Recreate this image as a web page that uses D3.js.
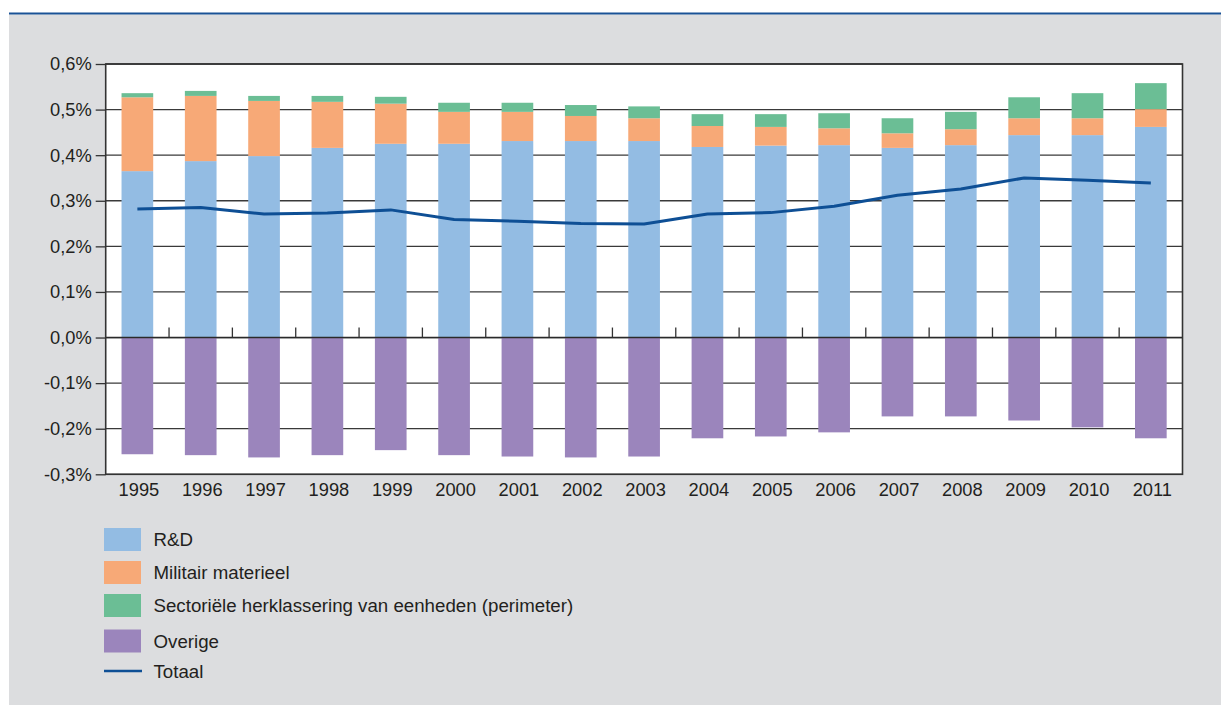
<!DOCTYPE html>
<html>
<head>
<meta charset="utf-8">
<script src="https://cdn.jsdelivr.net/npm/d3@7"></script>
<style>
  html, body { margin: 0; padding: 0; background: #ffffff; }
  svg { display: block; font-family: "Liberation Sans", Arial, Helvetica, sans-serif; }
</style>
</head>
<body>
<svg id="chart" width="1221" height="705"></svg>
<script>
// Years on the horizontal axis
const years = ["1995","1996","1997","1998","1999","2000","2001","2002","2003","2004","2005","2006","2007","2008","2009","2010","2011"];

// Contributions in % of GDP
const rnd = [0.365,0.387,0.398,0.416,0.425,0.425,0.431,0.431,0.431,0.418,0.421,0.422,0.416,0.422,0.444,0.444,0.462];
const militair = [0.162,0.143,0.121,0.101,0.088,0.070,0.064,0.055,0.050,0.046,0.041,0.037,0.032,0.035,0.037,0.037,0.039];
const sectorieel = [0.009,0.011,0.011,0.013,0.015,0.020,0.020,0.024,0.026,0.026,0.028,0.033,0.033,0.038,0.046,0.055,0.057];
const overige = [-0.256,-0.258,-0.263,-0.258,-0.247,-0.258,-0.261,-0.263,-0.261,-0.221,-0.217,-0.208,-0.173,-0.173,-0.182,-0.197,-0.221];
const totaal = [0.282,0.285,0.271,0.273,0.280,0.259,0.255,0.250,0.249,0.271,0.274,0.288,0.312,0.326,0.350,0.345,0.339];

// Value-axis ticks
const yTicks = [-0.3,-0.2,-0.1,0.0,0.1,0.2,0.3,0.4,0.5,0.6];

const seriesNames = ["R&D","Militair materieel","Sectoriële herklassering van eenheden (perimeter)","Overige","Totaal"];
const colors = {
  rnd: "#93bce3",
  militair: "#f7a977",
  sectorieel: "#6bbe95",
  overige: "#9b85bc",
  totaal: "#0e4f95"
};

const FONT = 18.3;
const LEGEND_FONT = 18.7;
const svg = d3.select("#chart");
const W = 1221, H = 705;

// Page background: white strip, blue rule, grey panel
svg.append("rect").attr("x", 0).attr("y", 0).attr("width", W).attr("height", H).attr("fill", "#ffffff");
svg.append("rect").attr("x", 9).attr("y", 14.5).attr("width", W - 9).attr("height", H - 14.5).attr("fill", "#dcdddf");
svg.append("line").attr("x1", 9).attr("x2", W).attr("y1", 13.5).attr("y2", 13.5)
  .attr("stroke", "#1a5296").attr("stroke-width", 2);

const plot = { left: 105.7, right: 1182.5, top: 64, bottom: 474.3 };

const x = d3.scaleBand().domain(years).range([plot.left, plot.right]).paddingInner(0.5).paddingOuter(0.25);
const y = d3.scaleLinear().domain([-0.3, 0.6]).range([plot.bottom, plot.top]);

// White plotting area
svg.append("rect")
  .attr("x", plot.left).attr("y", plot.top)
  .attr("width", plot.right - plot.left).attr("height", plot.bottom - plot.top)
  .attr("fill", "#ffffff");

// Horizontal grid lines
svg.append("g").selectAll("line").data(yTicks).join("line")
  .attr("x1", plot.left).attr("x2", plot.right)
  .attr("y1", d => y(d)).attr("y2", d => y(d))
  .attr("stroke", "#3a3a3a").attr("stroke-width", 1.3);

// Stacked bars
const table = years.map((yr, i) => ({ year: yr, rnd: rnd[i], militair: militair[i], sectorieel: sectorieel[i], overige: overige[i] }));
const stack = d3.stack().keys(["rnd", "militair", "sectorieel", "overige"]).offset(d3.stackOffsetDiverging);
const layers = stack(table);

svg.append("g").selectAll("g").data(layers).join("g")
  .attr("fill", d => colors[d.key])
  .selectAll("rect").data(d => d).join("rect")
  .attr("x", d => x(d.data.year))
  .attr("width", x.bandwidth())
  .attr("y", d => y(Math.max(d[0], d[1])))
  .attr("height", d => Math.abs(y(d[0]) - y(d[1])));

// Zero line
svg.append("line").attr("x1", plot.left).attr("x2", plot.right)
  .attr("y1", y(0)).attr("y2", y(0)).attr("stroke", "#2a2a2a").attr("stroke-width", 1.6);

// Category separators on the zero line
const step = x.step();
svg.append("g").selectAll("line").data(years.slice(1)).join("line")
  .attr("x1", d => x(d) - step * x.paddingInner() / 2)
  .attr("x2", d => x(d) - step * x.paddingInner() / 2)
  .attr("y1", y(0)).attr("y2", y(0) - 10)
  .attr("stroke", "#333").attr("stroke-width", 1.3);

// Total line
const line = d3.line()
  .x((d, i) => x(years[i]) + x.bandwidth() / 2)
  .y(d => y(d));
svg.append("path").datum(totaal)
  .attr("d", line)
  .attr("fill", "none")
  .attr("stroke", colors.totaal)
  .attr("stroke-width", 3)
  .attr("stroke-linejoin", "round");

// Frame around the plotting area
svg.append("rect")
  .attr("x", plot.left).attr("y", plot.top)
  .attr("width", plot.right - plot.left).attr("height", plot.bottom - plot.top)
  .attr("fill", "none").attr("stroke", "#333").attr("stroke-width", 1.6);

// Value axis
const nl = d3.formatLocale({ decimal: ",", thousands: ".", grouping: [3], currency: ["€", ""], minus: "-" });
const fmt = nl.format(".1f");
const yAxis = d3.axisLeft(y).tickValues(yTicks).tickSize(10).tickSizeOuter(0).tickPadding(4)
  .tickFormat(d => fmt(d) + "%");
const gy = svg.append("g").attr("transform", `translate(${plot.left},0)`).call(yAxis);
gy.select(".domain").remove();
gy.selectAll(".tick line").attr("stroke", "#333").attr("stroke-width", 1.3);
gy.selectAll(".tick text").attr("fill", "#231f20").attr("font-size", FONT);

// Category axis labels
const xAxis = d3.axisBottom(x).tickSize(0).tickPadding(9);
const gx = svg.append("g").attr("transform", `translate(1.5,${plot.bottom})`).call(xAxis);
gx.select(".domain").remove();
gx.selectAll(".tick text").attr("fill", "#231f20").attr("font-size", FONT);

// Legend
const legend = svg.append("g").attr("transform", "translate(104,539.5)");
const legendKeys = ["rnd", "militair", "sectorieel", "overige", "totaal"];
const rowOffsets = [0, 33, 66, 101.5, 131.5];
const rows = legend.selectAll("g").data(legendKeys).join("g")
  .attr("transform", (d, i) => `translate(0,${rowOffsets[i]})`);
rows.each(function (k, i) {
  const g = d3.select(this);
  if (k === "totaal") {
    g.append("line").attr("x1", 0).attr("x2", 38).attr("y1", 0).attr("y2", 0)
      .attr("stroke", colors.totaal).attr("stroke-width", 2.6);
  } else {
    g.append("rect").attr("x", 0).attr("y", -11.5).attr("width", 37).attr("height", 23).attr("fill", colors[k]);
  }
  g.append("text").attr("x", 49.5).attr("y", 6.5).attr("font-size", LEGEND_FONT).attr("fill", "#231f20")
    .text(seriesNames[i]);
});
</script>
</body>
</html>
